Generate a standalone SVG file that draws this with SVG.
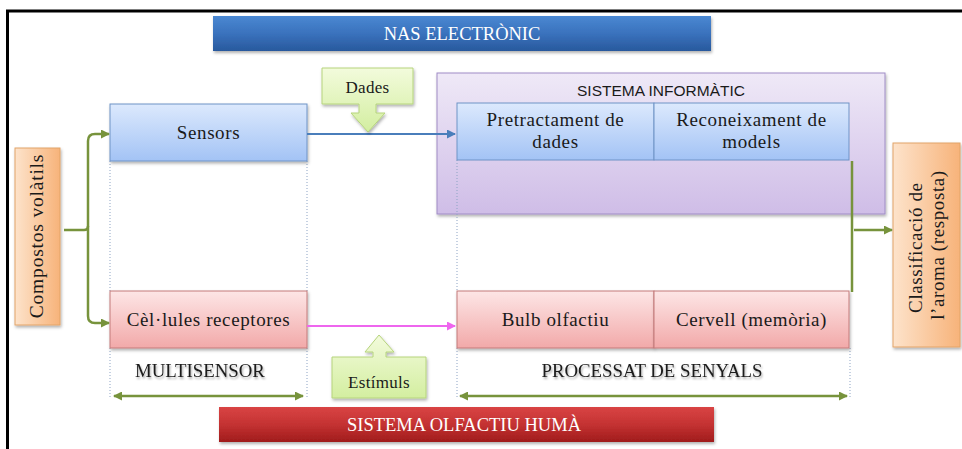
<svg xmlns="http://www.w3.org/2000/svg" width="962" height="449" viewBox="0 0 962 449">
  <defs>
    <style>
      .serif { font-family: "Liberation Serif", "Times New Roman", serif; fill: #1a1a1a; }
      .sans { font-family: "Liberation Sans", Arial, sans-serif; fill: #1a1a1a; }
      .box { font-size: 19px; letter-spacing: 0.6px; text-anchor: middle; }
      .cap { font-size: 18.8px; text-anchor: middle; }
      .bar-text { font-size: 18.5px; text-anchor: middle; fill: #ffffff; }
      .call { font-size: 17px; letter-spacing: 0.3px; text-anchor: middle; }
      .green { stroke: #77933c; stroke-width: 2.5; fill: none; }
      .guide { stroke: #8da3c4; stroke-width: 1; stroke-dasharray: 1 2; fill: none; }
    </style>
    <linearGradient id="gBlue" x1="0" y1="0" x2="0" y2="1">
      <stop offset="0" stop-color="#dce9fd"/>
      <stop offset="1" stop-color="#a3c3f5"/>
    </linearGradient>
    <linearGradient id="gPink" x1="0" y1="0" x2="0" y2="1">
      <stop offset="0" stop-color="#fde6e6"/>
      <stop offset="1" stop-color="#f2a9a9"/>
    </linearGradient>
    <linearGradient id="gPurple" x1="0" y1="0" x2="0" y2="1">
      <stop offset="0" stop-color="#efe9f7"/>
      <stop offset="1" stop-color="#cfbde7"/>
    </linearGradient>
    <linearGradient id="gOrange" x1="0" y1="0" x2="1" y2="0">
      <stop offset="0" stop-color="#fde3cb"/>
      <stop offset="1" stop-color="#f7b37a"/>
    </linearGradient>
    <linearGradient id="gGreen" x1="0" y1="0" x2="0" y2="1">
      <stop offset="0" stop-color="#f3fbdc"/>
      <stop offset="1" stop-color="#d3eea0"/>
    </linearGradient>
    <linearGradient id="gNavy" x1="0" y1="0" x2="0" y2="1">
      <stop offset="0" stop-color="#4a88d2"/>
      <stop offset="0.5" stop-color="#3a72bd"/>
      <stop offset="1" stop-color="#28599d"/>
    </linearGradient>
    <linearGradient id="gRed" x1="0" y1="0" x2="0" y2="1">
      <stop offset="0" stop-color="#d94444"/>
      <stop offset="0.5" stop-color="#c43232"/>
      <stop offset="1" stop-color="#a01c1c"/>
    </linearGradient>
    <filter id="shadow" x="-10%" y="-10%" width="120%" height="130%">
      <feDropShadow dx="1" dy="2" stdDeviation="1.5" flood-color="#000" flood-opacity="0.3"/>
    </filter>
    <filter id="tshadow" x="-10%" y="-30%" width="120%" height="160%">
      <feDropShadow dx="1" dy="2" stdDeviation="1.2" flood-color="#000" flood-opacity="0.35"/>
    </filter>
    <marker id="headGreen" markerUnits="userSpaceOnUse" markerWidth="9" markerHeight="9" refX="8" refY="4.5" orient="auto-start-reverse">
      <path d="M0,0 L9,4.5 L0,9 z" fill="#77933c"/>
    </marker>
    <marker id="headBlue" markerUnits="userSpaceOnUse" markerWidth="9" markerHeight="9" refX="8" refY="4.5" orient="auto">
      <path d="M0,0 L9,4.5 L0,9 z" fill="#4a7ebb"/>
    </marker>
    <marker id="headPink" markerUnits="userSpaceOnUse" markerWidth="9" markerHeight="9" refX="8" refY="4.5" orient="auto">
      <path d="M0,0 L9,4.5 L0,9 z" fill="#ee66ee"/>
    </marker>
  </defs>

  <rect width="962" height="449" fill="#ffffff"/>
  <!-- frame -->
  <path d="M7.5 449 V11 H962" fill="none" stroke="#000" stroke-width="3"/>

  <!-- title bars -->
  <g id="nas-electronic">
    <rect x="213" y="16" width="498" height="35" fill="url(#gNavy)" filter="url(#shadow)"/>
    <text class="serif bar-text" x="462" y="39.5">NAS ELECTRÒNIC</text>
  </g>
  <g id="sistema-olfactiu">
    <rect x="219" y="407" width="495" height="35" fill="url(#gRed)" filter="url(#shadow)"/>
    <text class="serif bar-text" x="464" y="431">SISTEMA OLFACTIU HUMÀ</text>
  </g>

  <!-- computing system container -->
  <g id="sistema-informatic">
    <rect x="437" y="73" width="448" height="141" fill="url(#gPurple)" stroke="#9f8cc5" stroke-width="1" filter="url(#shadow)"/>
    <text class="sans" x="661" y="95.5" font-size="15.5" text-anchor="middle">SISTEMA INFORMÀTIC</text>
  </g>

  <!-- guide lines -->
  <g id="guides">
    <path class="guide" d="M110 161 V291 M307 161 V291 M457 160 V291 M110 348 V399 M307 348 V399 M457 348 V399 M850 348 V399"/>
  </g>

  <!-- source and result -->
  <g id="compostos">
    <rect x="15" y="148" width="45" height="177" fill="url(#gOrange)" stroke="#e2a468" stroke-width="1" filter="url(#shadow)"/>
    <text class="serif" font-size="19.5" letter-spacing="0.8" text-anchor="middle" transform="translate(43,236) rotate(-90)">Compostos volàtils</text>
  </g>
  <g id="classificacio">
    <rect x="893" y="143" width="67" height="204" fill="url(#gOrange)" stroke="#e2a468" stroke-width="1" filter="url(#shadow)"/>
    <text class="serif" font-size="19" letter-spacing="0.6" text-anchor="middle" transform="translate(922,245) rotate(-90)">
      <tspan x="0" y="0">Classificació de</tspan>
      <tspan x="0" y="22">l’aroma (resposta)</tspan>
    </text>
  </g>

  <!-- electronic nose -->
  <g id="sensors">
    <rect x="110" y="104" width="197" height="57" fill="url(#gBlue)" stroke="#6f93c6" stroke-width="1" filter="url(#shadow)"/>
    <text class="serif box" x="208.5" y="139">Sensors</text>
  </g>
  <g id="pretractament">
    <rect x="457" y="103" width="197" height="57" fill="url(#gBlue)" stroke="#6f93c6" stroke-width="1"/>
    <text class="serif box" x="555.5" y="126">Pretractament de</text>
    <text class="serif box" x="555.5" y="148">dades</text>
  </g>
  <g id="reconeixament">
    <rect x="654" y="103" width="195" height="57" fill="url(#gBlue)" stroke="#6f93c6" stroke-width="1"/>
    <text class="serif box" x="751.5" y="126">Reconeixament de</text>
    <text class="serif box" x="751.5" y="148">models</text>
  </g>

  <!-- human olfactory system -->
  <g id="cellules">
    <rect x="110" y="291" width="197" height="57" fill="url(#gPink)" stroke="#c47b7b" stroke-width="1" filter="url(#shadow)"/>
    <text class="serif box" x="208.5" y="326">Cèl·lules receptores</text>
  </g>
  <g id="bulb">
    <rect x="457" y="291" width="197" height="57" fill="url(#gPink)" stroke="#c47b7b" stroke-width="1" filter="url(#shadow)"/>
    <text class="serif box" x="555.5" y="326">Bulb olfactiu</text>
  </g>
  <g id="cervell">
    <rect x="654" y="291" width="195" height="57" fill="url(#gPink)" stroke="#c47b7b" stroke-width="1" filter="url(#shadow)"/>
    <text class="serif box" x="751.5" y="326">Cervell (memòria)</text>
  </g>

  <!-- section labels -->
  <g id="multisensor">
    <text class="serif cap" x="200" y="377" filter="url(#tshadow)">MULTISENSOR</text>
  </g>
  <g id="processat">
    <text class="serif cap" x="652" y="377" font-size="18.4" filter="url(#tshadow)">PROCESSAT DE SENYALS</text>
  </g>

  <!-- connectors -->
  <g id="connectors">
    <path class="green" d="M64 230 H84 Q88 230 88 226"/>
    <path class="green" d="M88 230 V141 Q88 134 95 134 H109" marker-end="url(#headGreen)"/>
    <path class="green" d="M88 230 V316 Q88 323 95 323 H109" marker-end="url(#headGreen)"/>
    <path d="M307 134 H455" stroke="#4a7ebb" stroke-width="2" fill="none" marker-end="url(#headBlue)"/>
    <path d="M307 326 H455" stroke="#ee66ee" stroke-width="2" fill="none" marker-end="url(#headPink)"/>
    <path class="green" d="M852 161 V292"/>
    <path class="green" d="M854 230 H892" marker-end="url(#headGreen)"/>
    <path class="green" d="M114 396 H303" marker-start="url(#headGreen)" marker-end="url(#headGreen)"/>
    <path class="green" d="M460 396 H847" marker-start="url(#headGreen)" marker-end="url(#headGreen)"/>
  </g>

  <!-- callouts -->
  <g id="dades">
    <path d="M322 68 H413 V104 H376 V113 H385 L368 132 L351 113 H359 V104 H322 Z" fill="url(#gGreen)" stroke="#b6d47c" stroke-width="1" filter="url(#shadow)"/>
    <text class="serif call" x="367.5" y="93">Dades</text>
  </g>
  <g id="estimuls">
    <path d="M332 398 V357 H373 V352 H365 L379 335 L394 352 H386 V357 H426 V398 Z" fill="url(#gGreen)" stroke="#b6d47c" stroke-width="1" filter="url(#shadow)"/>
    <text class="serif call" x="379" y="388">Estímuls</text>
  </g>
</svg>
